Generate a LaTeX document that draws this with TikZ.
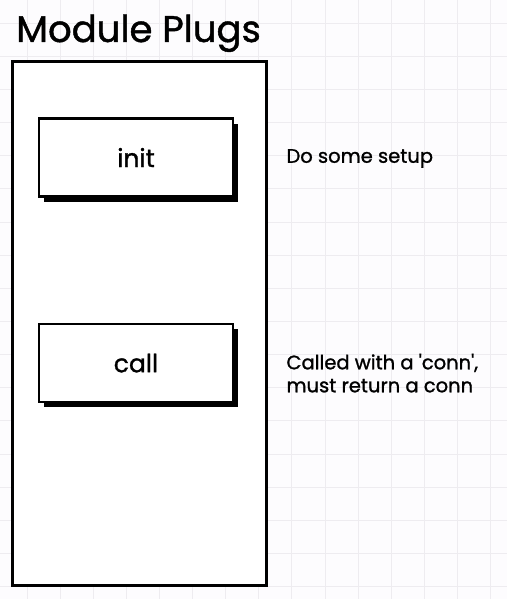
\documentclass[tikz,border=0pt]{standalone}
\usepackage{fontspec}
\newfontfamily\sketchfont{Poppins}[FakeBold=1.2]
\usetikzlibrary{positioning}
\usetikzlibrary{shadows}
\definecolor{paper}{RGB}{253,252,254}
\definecolor{gridline}{RGB}{238,236,240}

\begin{document}
\begin{tikzpicture}[x=1pt,y=-1pt,
    plug/.style={draw,line width=2.6pt,fill=white,minimum width=194pt,minimum height=78pt,
      drop shadow={shadow xshift=5pt,shadow yshift=-5pt,fill=black,opacity=1},
      font=\sketchfont\fontsize{25}{29}\selectfont},
    note/.style={anchor=west,align=left,inner sep=0pt,font=\sketchfont\fontsize{19.5}{23}\selectfont}]

    % Paper and grid
    \fill [paper] (0,0) rectangle (507,599);
    \useasboundingbox (0,0) rectangle (507,599);
    \foreach \i in {0,...,14}
        \draw [gridline,line width=0.8pt] ({27+33.1*\i},0) -- ({27+33.1*\i},599);
    \foreach \j in {0,...,17}
        \draw [gridline,line width=0.8pt] (0,{23+33.15*\j}) -- (507,{23+33.15*\j});

    % Title
    \node (title) [anchor=base west,inner sep=0pt,font=\sketchfont\fontsize{37}{43}\selectfont] at (16,42) {Module Plugs};

    % Module box
    \node (module) [draw,line width=3pt,fill=white,minimum width=254pt,minimum height=524pt] at (139,323.5) {};

    % Plugs
    \node (init) [plug] at (136,157.5) {init};
    \node (call) [plug,below=125pt of init] {call};

    % Notes
    \node (setup) [note,right=52pt of init.east,yshift=-1pt] {Do some setup};
    \node (conn) [note,right=52pt of call.east,yshift=-10pt] {Called with a 'conn',\\must return a conn};
\end{tikzpicture}
\end{document}
